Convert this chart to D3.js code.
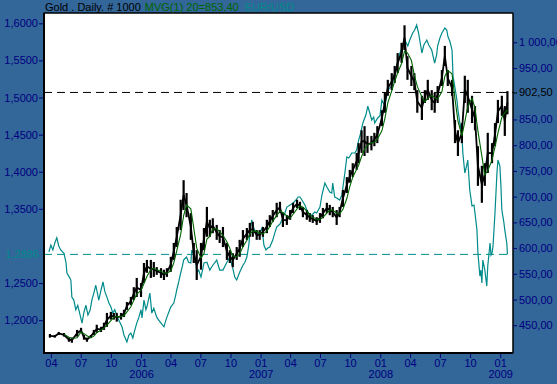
<!DOCTYPE html>
<html><head><meta charset="utf-8">
<script src="https://cdn.jsdelivr.net/npm/d3@7"></script>
<style>
html,body{margin:0;padding:0;background:#336699;}
svg{display:block;font-family:"Liberation Sans",Arial,sans-serif;}
</style></head><body>
<svg id="chart" width="557" height="384"></svg>
<script>
// ---------- DATA ----------
const goldDates = ["2005-03-29","2005-04-13","2005-04-25","2005-05-11","2005-05-26","2005-06-04","2005-06-20","2005-07-02","2005-07-11","2005-07-20","2005-08-01","2005-08-10","2005-08-19","2005-09-01","2005-09-10","2005-09-19","2005-10-01","2005-10-10","2005-10-19","2005-11-01","2005-11-10","2005-11-19","2005-12-01","2005-12-10","2005-12-19",
"2006-01-01","2006-01-10","2006-01-19","2006-01-31","2006-02-09","2006-02-18","2006-03-03","2006-03-12","2006-03-21","2006-04-02","2006-04-11","2006-04-20","2006-05-02","2006-05-11","2006-05-20","2006-06-02","2006-06-11","2006-06-20","2006-07-03","2006-07-12","2006-07-21","2006-07-30","2006-08-08","2006-08-20","2006-08-29","2006-09-08","2006-09-20","2006-09-29","2006-10-08","2006-10-20","2006-10-29","2006-11-08","2006-11-20","2006-11-29","2006-12-08","2006-12-20","2006-12-29",
"2007-01-08","2007-01-20","2007-01-29","2007-02-07","2007-02-19","2007-03-01","2007-03-10","2007-03-22","2007-04-01","2007-04-10","2007-04-22","2007-05-01","2007-05-10","2007-05-22","2007-05-31","2007-06-09","2007-06-21","2007-07-01","2007-07-10","2007-07-22","2007-07-31","2007-08-09","2007-08-21","2007-08-30","2007-09-09","2007-09-21","2007-09-30","2007-10-09","2007-10-21","2007-10-27","2007-11-05","2007-11-14","2007-11-23","2007-12-05","2007-12-14","2007-12-23",
"2008-01-06","2008-01-15","2008-01-24","2008-02-05","2008-02-14","2008-02-23","2008-03-06","2008-03-15","2008-03-24","2008-04-05","2008-04-14","2008-04-23","2008-05-07","2008-05-16","2008-05-25","2008-06-06","2008-06-15","2008-06-24","2008-07-07","2008-07-16","2008-07-25","2008-08-07","2008-08-16","2008-08-25","2008-09-06","2008-09-15","2008-09-24","2008-10-07","2008-10-16","2008-10-25","2008-11-06","2008-11-15","2008-11-24","2008-12-07","2008-12-16","2008-12-25",
"2009-01-06","2009-01-15","2009-01-23"];
const goldLow = [426,426,431,428,418,416,428,435,422,418,426,431,435,437,441,447,461,461,457,461,466,480,489,499,505,
505,532,552,542,544,548,542,538,544,554,577,602,635,674,660,616,571,538,558,596,622,622,629,616,610,602,577,571,563,577,583,602,616,622,622,616,616,
622,629,641,651,660,668,641,645,655,668,678,674,660,655,651,649,645,649,658,668,664,660,645,660,680,707,727,738,752,765,785,779,785,790,798,804,
837,863,896,907,921,940,960,985,927,915,907,863,849,882,888,868,863,882,915,954,915,896,804,779,804,882,863,843,829,721,688,721,746,765,798,843,
857,818,860];
const goldHigh = [433,431,437,435,426,426,441,445,431,426,431,441,451,447,455,474,476,474,474,474,480,495,505,524,542,
532,571,577,577,573,563,561,558,561,583,610,641,694,732,707,668,610,596,610,639,680,655,658,645,635,641,610,596,590,602,616,635,639,649,651,635,635,
641,655,664,674,688,690,668,664,674,688,694,690,680,674,668,664,660,668,678,688,684,680,674,680,713,738,752,765,785,804,829,837,818,818,824,837,
868,902,927,940,954,979,999,1033,973,954,940,907,896,907,927,907,902,915,946,993,946,927,849,829,843,935,927,896,876,798,760,765,824,804,843,888,
896,876,905];

const eurDates = ["2005-03-26","2005-04-01","2005-04-07","2005-04-13","2005-04-19","2005-04-25","2005-05-01","2005-05-11","2005-05-17","2005-05-20","2005-05-26","2005-06-01","2005-06-04","2005-06-10","2005-06-16","2005-06-22","2005-06-29","2005-07-05","2005-07-11","2005-07-17","2005-07-23","2005-07-30","2005-08-04","2005-08-10","2005-08-16","2005-08-22","2005-08-25","2005-09-01","2005-09-07","2005-09-13","2005-09-19","2005-09-25","2005-10-01","2005-10-07","2005-10-13","2005-10-22","2005-10-28","2005-11-04","2005-11-10","2005-11-19","2005-11-25","2005-12-01","2005-12-07","2005-12-13","2005-12-19","2005-12-25",
"2006-01-01","2006-01-04","2006-01-10","2006-01-16","2006-01-19","2006-01-25","2006-01-28","2006-02-03","2006-02-09","2006-02-18","2006-02-24","2006-03-03","2006-03-12","2006-03-18","2006-03-21","2006-03-27","2006-04-02","2006-04-11","2006-04-17","2006-04-20","2006-04-26","2006-05-02","2006-05-08","2006-05-11","2006-05-17","2006-05-20","2006-05-26","2006-06-02","2006-06-05","2006-06-11","2006-06-17","2006-06-20","2006-06-26","2006-07-03","2006-07-09","2006-07-12","2006-07-21","2006-07-30","2006-08-08","2006-08-20","2006-08-29","2006-09-08","2006-09-20","2006-09-29","2006-10-08","2006-10-14","2006-10-20","2006-10-29","2006-11-08","2006-11-14","2006-11-20","2006-11-26","2006-11-29","2006-12-05","2006-12-11","2006-12-14","2006-12-20","2006-12-29",
"2007-01-05","2007-01-11","2007-01-17","2007-01-23","2007-01-29","2007-02-07","2007-02-13","2007-02-19","2007-03-01","2007-03-07","2007-03-16","2007-03-22","2007-04-01","2007-04-10","2007-04-19","2007-04-25","2007-05-01","2007-05-07","2007-05-16","2007-05-22","2007-05-31","2007-06-06","2007-06-15","2007-06-21","2007-07-01","2007-07-07","2007-07-16","2007-07-22","2007-07-31","2007-08-06","2007-08-09","2007-08-15","2007-08-21","2007-08-30","2007-09-06","2007-09-12","2007-09-15","2007-09-21","2007-09-27","2007-10-06","2007-10-15","2007-10-21","2007-10-27","2007-10-31","2007-11-09","2007-11-18","2007-11-24","2007-11-30","2007-12-06","2007-12-12","2007-12-15","2007-12-24","2007-12-31",
"2008-01-06","2008-01-15","2008-01-24","2008-01-30","2008-02-05","2008-02-14","2008-02-20","2008-03-01","2008-03-10","2008-03-16","2008-03-25","2008-03-31","2008-04-09","2008-04-15","2008-04-21","2008-04-27","2008-05-07","2008-05-13","2008-05-22","2008-05-28","2008-06-06","2008-06-15","2008-06-21","2008-06-24","2008-07-01","2008-07-07","2008-07-16","2008-07-22","2008-07-25","2008-08-01","2008-08-07","2008-08-10","2008-08-16","2008-08-22","2008-08-25","2008-08-31","2008-09-06","2008-09-09","2008-09-15","2008-09-21","2008-09-24","2008-09-30","2008-10-07","2008-10-13","2008-10-16","2008-10-22","2008-10-25","2008-10-31","2008-11-03","2008-11-06","2008-11-09","2008-11-15","2008-11-18","2008-11-21","2008-11-24","2008-12-01","2008-12-04","2008-12-07","2008-12-10","2008-12-16","2008-12-22","2008-12-25","2008-12-31",
"2009-01-03","2009-01-06","2009-01-12","2009-01-15","2009-01-21","2009-01-23"];
const eurValues = [1.292,1.301,1.2945,1.304,1.311,1.300,1.2945,1.290,1.278,1.2635,1.259,1.254,1.231,1.227,1.214,1.220,1.207,1.196,1.211,1.220,1.207,1.214,1.227,1.2365,1.247,1.234,1.227,1.2406,1.2514,1.238,1.231,1.223,1.218,1.2095,1.214,1.203,1.1975,1.191,1.180,1.1705,1.180,1.1826,1.176,1.1866,1.196,1.203,
1.214,1.203,1.227,1.214,1.218,1.230,1.2365,1.2095,1.216,1.204,1.200,1.196,1.191,1.200,1.204,1.211,1.218,1.223,1.234,1.2406,1.2514,1.2635,1.274,1.281,1.2837,1.285,1.278,1.277,1.2945,1.288,1.281,1.2635,1.2675,1.258,1.270,1.277,1.278,1.2675,1.274,1.281,1.2675,1.2675,1.278,1.285,1.270,1.258,1.254,1.2645,1.274,1.278,1.285,1.301,1.3186,1.335,1.324,1.321,1.3146,1.317,
1.3241,1.3012,1.2945,1.2971,1.2985,1.3079,1.3173,1.3254,1.3295,1.3349,1.3443,1.3524,1.3551,1.3578,1.3619,1.3659,1.3659,1.3619,1.3551,1.3484,1.3416,1.3416,1.3457,1.3443,1.3524,1.3686,1.3848,1.3794,1.3726,1.3713,1.3848,1.3659,1.3646,1.3619,1.3686,1.3888,1.3983,1.4198,1.4185,1.4252,1.4252,1.4292,1.4427,1.4481,1.4656,1.4764,1.4885,1.4791,1.4697,1.4737,1.4656,1.4724,1.4751,
1.4966,1.4885,1.5101,1.5128,1.5155,1.5330,1.5425,1.5600,1.5694,1.5775,1.5694,1.5775,1.5869,1.5910,1.5977,1.5869,1.5600,1.5708,1.5775,1.5708,1.5640,1.5465,1.5573,1.5694,1.5802,1.5869,1.5937,1.5910,1.5829,1.5748,1.5640,1.5290,1.5128,1.4966,1.4832,1.4656,1.4495,1.4252,1.3983,1.4090,1.4158,1.3753,1.3538,1.3551,1.3443,1.3214,1.2904,1.2594,1.2675,1.2500,1.2810,1.2675,1.2567,1.2459,1.2729,1.3039,1.2877,1.2904,1.2998,1.3443,1.3983,1.4158,1.4077,
1.3821,1.3484,1.3322,1.3214,1.3039,1.2886];

const leftTicks = [1.2,1.25,1.35,1.4,1.45,1.5,1.55,1.6];
const rightTicks = [450,500,550,600,650,700,750,800,850,950,1000];
const monthTicks = ["2005-04-01","2005-07-01","2005-10-01","2006-01-01","2006-04-01","2006-07-01","2006-10-01","2007-01-01","2007-04-01","2007-07-01","2007-10-01","2008-01-01","2008-04-01","2008-07-01","2008-10-01","2009-01-01"];
const yearTicks = ["2006-01-01","2007-01-01","2008-01-01","2009-01-01"];
const goldLast = 902.5;
const eurLast = 1.2886;
const titleParts = ["Gold . Daily. # 1000", "MVG(1) 20=853,40", "EUR/USD"];
const maDays = 28; // ~20 trading days

// ---------- SCALES ----------
const P = {l:44, t:13, r:513, b:353};
const parse = d3.utcParse("%Y-%m-%d");
const x = d3.scaleUtc().domain([parse("2005-03-11"), parse("2009-02-09")]).range([P.l, P.r]);
const yL = d3.scaleLinear().domain([1.1557, 1.6139]).range([P.b, P.t]);
const yR = d3.scaleLinear().domain([396.1, 1056.9]).range([P.b, P.t]);

const gold = goldDates.map((d,i)=>({date:parse(d), lo:goldLow[i], hi:goldHigh[i], mid:(goldLow[i]+goldHigh[i])/2}));
const eur = eurDates.map((d,i)=>({date:parse(d), v:eurValues[i]}));
const ma = [];
gold.forEach(g=>{
  const start = d3.utcDay.offset(g.date, -maDays);
  if (start < gold[0].date) return;
  const win = gold.filter(h=>h.date>start && h.date<=g.date);
  ma.push({date:g.date, v:d3.mean(win, h=>h.mid)});
});

const svg = d3.select("#chart");
svg.append("rect").attr("width",557).attr("height",384).attr("fill","#336699");
svg.append("rect").attr("x",P.l).attr("y",P.t).attr("width",P.r-P.l).attr("height",P.b-P.t)
  .attr("fill","#fff").attr("stroke","#000").attr("stroke-width",1);

const navy = "#000080";
const teal = "#008b8b";

// dashed last-value lines
svg.append("line").attr("x1",P.l).attr("x2",P.r).attr("y1",yR(goldLast)).attr("y2",yR(goldLast))
  .attr("stroke","#000").attr("stroke-width",1).attr("stroke-dasharray","8,5");
svg.append("line").attr("x1",P.l).attr("x2",P.r).attr("y1",yL(eurLast)).attr("y2",yL(eurLast))
  .attr("stroke",teal).attr("stroke-width",1).attr("stroke-dasharray","8,5");

// EUR/USD line
svg.append("path").datum(eur)
  .attr("d", d3.line().x(d=>x(d.date)).y(d=>yL(d.v)))
  .attr("fill","none").attr("stroke",teal).attr("stroke-width",1.2);

// Gold bars
svg.append("path").datum(gold)
  .attr("d", d3.line().x(d=>x(d.date)).y(d=>yR(d.mid)))
  .attr("fill","none").attr("stroke","#000").attr("stroke-width",1.8);
svg.append("g").selectAll("rect").data(gold).join("rect")
  .attr("x",d=>x(d.date)-1.1).attr("width",2.2)
  .attr("y",d=>yR(d.hi)).attr("height",d=>yR(d.lo)-yR(d.hi))
  .attr("fill","#000");

// MA line
svg.append("path").datum(ma)
  .attr("d", d3.line().x(d=>x(d.date)).y(d=>yR(d.v)))
  .attr("fill","none").attr("stroke","#006400").attr("stroke-width",1.1);

// frame lines on top
svg.append("line").attr("x1",P.l).attr("x2",P.l).attr("y1",P.t).attr("y2",P.b+1).attr("stroke","#000").attr("stroke-width",2);
svg.append("line").attr("x1",P.l-1).attr("x2",P.r).attr("y1",P.b).attr("y2",P.b).attr("stroke","#000").attr("stroke-width",2);
svg.append("line").attr("x1",P.r).attr("x2",P.r).attr("y1",P.t).attr("y2",P.b).attr("stroke","#000").attr("stroke-width",1);
svg.append("line").attr("x1",P.l).attr("x2",P.r).attr("y1",P.t).attr("y2",P.t).attr("stroke","#000").attr("stroke-width",1);

// Axes
function styleAxis(g){
  g.select(".domain").remove();
  g.selectAll("line").attr("stroke",navy);
  g.selectAll("text").attr("fill",navy).style("font-size","11px").style("font-family","'Liberation Sans',Arial,sans-serif");
}
const fmtL = d => d3.format(".4f")(d).replace(".", ",");
const fmtR = d => d3.format(",.2f")(d).replace(/,/g," ").replace(".", ",");

svg.append("g").attr("transform",`translate(${P.l-1},0)`)
  .call(d3.axisLeft(yL).tickValues(leftTicks).tickFormat(fmtL).tickSize(4).tickPadding(1))
  .call(styleAxis);
svg.append("text").attr("x",P.l-5).attr("y",yL(eurLast)).attr("dy","0.35em")
  .attr("text-anchor","end").attr("fill",teal).style("font-size","11px").text(fmtL(eurLast));

svg.append("g").attr("transform",`translate(${P.r},0)`)
  .call(d3.axisRight(yR).tickValues(rightTicks).tickFormat(fmtR).tickSize(4).tickPadding(2))
  .call(styleAxis);
svg.append("g").attr("transform",`translate(${P.r},0)`)
  .call(d3.axisRight(yR).tickValues([goldLast]).tickFormat(fmtR).tickSize(4).tickPadding(2))
  .call(g=>{styleAxis(g); g.selectAll("line").attr("stroke","#000"); g.selectAll("text").attr("fill","#000");});

svg.append("g").attr("transform",`translate(0,${P.b+1})`)
  .call(d3.axisBottom(x).tickValues(monthTicks.map(parse)).tickFormat(d3.utcFormat("%m")).tickSize(4).tickPadding(1))
  .call(styleAxis);
svg.append("g").attr("transform",`translate(0,${P.b+15})`)
  .call(d3.axisBottom(x).tickValues(yearTicks.map(parse)).tickFormat(d3.utcFormat("%Y")).tickSize(0).tickPadding(2))
  .call(styleAxis);

// Title
const t = svg.append("text").attr("x",P.l+1).attr("y",P.t-2).style("font-size","11px");
t.append("tspan").attr("fill","#000").text(titleParts[0]);
t.append("tspan").attr("fill","#006400").attr("dx",4).text(titleParts[1]);
t.append("tspan").attr("fill",teal).attr("dx",6).text(titleParts[2]);
</script>
</body></html>
